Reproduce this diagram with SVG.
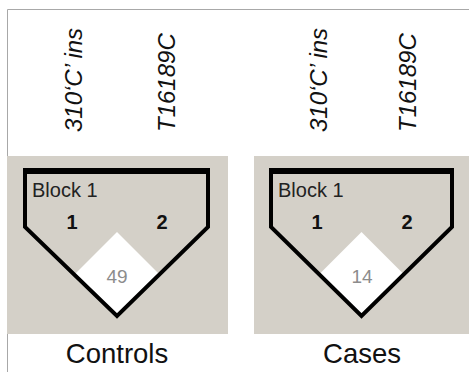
<svg xmlns="http://www.w3.org/2000/svg" width="469" height="372" viewBox="0 0 469 372">
<style>
.panel{fill:#d4d0c8}
.frame{stroke:#a8a8a8;stroke-width:1;fill:none}
.pent{fill:none;stroke:#000;stroke-width:4;stroke-linejoin:miter}
.topbar{stroke:#000;stroke-width:6}
.dia{fill:#fff}
.lab{font-family:"Liberation Sans",Arial,sans-serif;font-style:italic;font-size:24px;fill:#111}
.blk{font-family:"Liberation Sans",Arial,sans-serif;font-size:20px;fill:#222}
.idx{font-family:"Liberation Sans",Arial,sans-serif;font-size:20px;font-weight:bold;fill:#111;text-anchor:middle}
.num{font-family:"Liberation Sans",Arial,sans-serif;font-size:19px;fill:#8c8c8c;text-anchor:middle}
.cap{font-family:"Liberation Sans",Arial,sans-serif;font-size:27.5px;fill:#111;text-anchor:middle}
</style>
<rect width="469" height="372" fill="#fff"/>
<path class="frame" d="M7.5,372 V9.5 H469"/>
<g id="controls">
<rect class="panel" x="7" y="156" width="221" height="178"/>
<text class="lab" transform="translate(82,132) rotate(-90)">310‘C’ ins</text>
<text class="lab" transform="translate(175,132) rotate(-90)">T16189C</text>
<polygon class="dia" points="117,232 75,274 117,316 159,274"/>
<polygon class="pent" points="25,171 208,171 208,227 117,316 25,227"/>
<line class="topbar" x1="23" y1="171" x2="210" y2="171"/>
<text class="blk" x="32" y="197">Block 1</text>
<text class="idx" x="72" y="229">1</text>
<text class="idx" x="162" y="229">2</text>
<text class="num" x="117" y="283">49</text>
<text class="cap" x="117" y="363">Controls</text>
</g>
<g id="cases">
<rect class="panel" x="254" y="156" width="215" height="178"/>
<text class="lab" transform="translate(327,132) rotate(-90)">310‘C’ ins</text>
<text class="lab" transform="translate(416,132) rotate(-90)">T16189C</text>
<polygon class="dia" points="361.5,232 319.5,274 361.5,316 403.5,274"/>
<polygon class="pent" points="271,171 452,171 452,227 361.5,316 271,227"/>
<line class="topbar" x1="269" y1="171" x2="454" y2="171"/>
<text class="blk" x="278" y="197">Block 1</text>
<text class="idx" x="317" y="229">1</text>
<text class="idx" x="407" y="229">2</text>
<text class="num" x="362" y="283">14</text>
<text class="cap" x="362" y="363">Cases</text>
</g>
<g id="connectors"/>
</svg>
